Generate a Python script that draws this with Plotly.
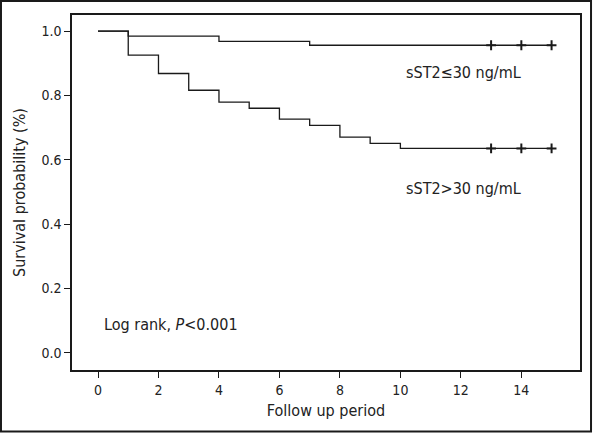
import plotly.graph_objects as go

# Group 1: sST2 <= 30 ng/mL
low_times = [0, 1, 4, 7, 15]
low_surv = [1.0, 0.984, 0.968, 0.956, 0.956]
low_censor_times = [13, 14, 15]
low_censor_surv = [0.956, 0.956, 0.956]

# Group 2: sST2 > 30 ng/mL
high_times = [0, 1, 2, 3, 4, 5, 6, 7, 8, 9, 10, 15]
high_surv = [1.0, 0.925, 0.868, 0.816, 0.779, 0.760, 0.726, 0.707, 0.670, 0.651, 0.635, 0.635]
high_censor_times = [13, 14, 15]
high_censor_surv = [0.635, 0.635, 0.635]

x_ticks = [0, 2, 4, 6, 8, 10, 12, 14]
y_ticks = [0.0, 0.2, 0.4, 0.6, 0.8, 1.0]
y_tick_labels = ["0.0", "0.2", "0.4", "0.6", "0.8", "1.0"]

FONT = "Liberation Sans Narrow, DejaVu Sans Condensed, Arial Narrow, sans-serif"

fig = go.Figure()
for t, s in [(low_times, low_surv), (high_times, high_surv)]:
    fig.add_trace(go.Scatter(x=t, y=s, mode="lines", line=dict(color="#1a1a1a", width=1.3, shape="hv"),
                             showlegend=False, hoverinfo="skip"))
for t, s in [(low_censor_times, low_censor_surv), (high_censor_times, high_censor_surv)]:
    fig.add_trace(go.Scatter(x=t, y=s, mode="markers",
                             marker=dict(symbol="cross-thin", size=7, line=dict(color="#1a1a1a", width=2)),
                             showlegend=False, hoverinfo="skip"))

fig.add_annotation(x=12.1, y=0.870, text="sST2≤30 ng/mL", showarrow=False, font=dict(size=16, color="#222", family=FONT))
fig.add_annotation(x=12.1, y=0.512, text="sST2>30 ng/mL", showarrow=False, font=dict(size=16, color="#222", family=FONT))
fig.add_annotation(x=2.43, y=0.086, text="Log rank, <i>P</i><0.001", showarrow=False, font=dict(size=16, color="#222", family=FONT))

# outer border
fig.add_shape(type="rect", xref="paper", yref="paper", x0=-0.1398, x1=1.0217, y0=-0.1732, y1=1.0394,
              line=dict(color="#1a1a1a", width=2))

fig.update_layout(
    width=594, height=433,
    margin=dict(l=72, r=14, t=15, b=63),
    paper_bgcolor="white", plot_bgcolor="white",
    font=dict(family=FONT, color="#222", size=14),
    xaxis=dict(range=[-0.86, 15.94], tickvals=x_ticks, ticks="outside", ticklen=6, tickwidth=1.3,
               tickcolor="#1a1a1a", showline=True, linecolor="#1a1a1a", linewidth=1.5, mirror=True,
               showgrid=False, zeroline=False, automargin=False,
               title=dict(text="Follow up period", font=dict(size=16), standoff=8),
               tickfont=dict(size=14)),
    yaxis=dict(range=[-0.054, 1.05], tickvals=y_ticks, ticktext=y_tick_labels, ticks="outside", ticklen=6,
               tickwidth=1.3, tickcolor="#1a1a1a", showline=True, linecolor="#1a1a1a", linewidth=1.5,
               mirror=True, showgrid=False, zeroline=False, automargin=False,
               title=dict(text="Survival probability (%)", font=dict(size=16), standoff=12),
               tickfont=dict(size=14)),
)

fig.write_html("out.html", config={"displayModeBar": False},
               post_script="document.body.style.margin='0';document.body.style.overflow='hidden';")
